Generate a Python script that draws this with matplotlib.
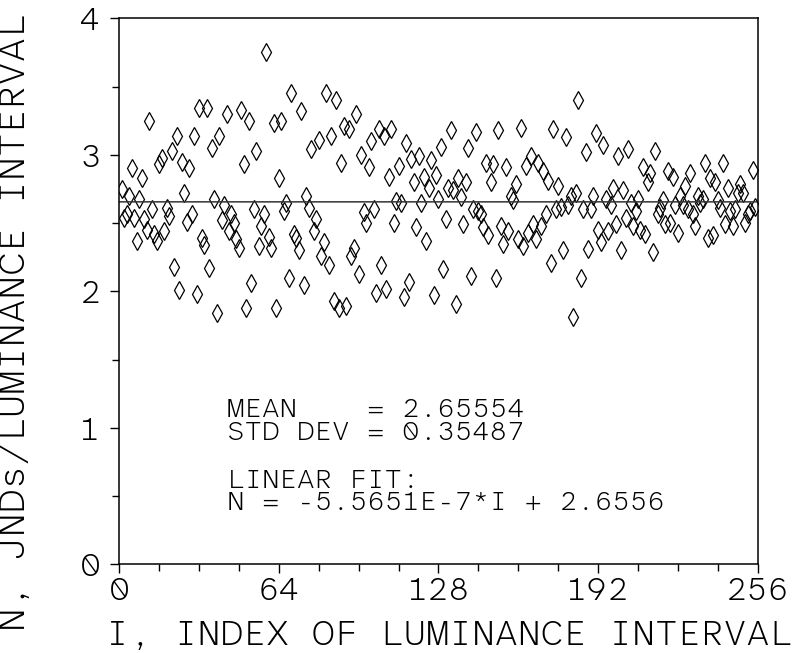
import numpy as np
import matplotlib
matplotlib.use("Agg")
import matplotlib.pyplot as plt


# JNDs per luminance interval, I = 1..255
jnd_001_050 = [2.75, 2.54, 2.57, 2.70, 2.90, 2.54, 2.37, 2.68, 2.83, 2.53,
               2.45, 3.25, 2.60, 2.42, 2.37, 2.93, 2.98, 2.44, 2.61, 2.55,
               3.03, 2.18, 3.14, 2.01, 2.95, 2.72, 2.51, 2.90, 2.57, 3.14,
               1.98, 3.34, 2.39, 2.34, 3.34, 2.17, 3.05, 2.68, 1.84, 3.14,
               2.52, 2.63, 3.30, 2.44, 2.57, 2.50, 2.38, 2.32, 3.33, 2.93]
jnd_051_101 = [1.88, 3.25, 2.06, 2.60, 3.03, 2.33, 2.48, 2.57, 3.75, 2.40,
               2.32, 3.23, 1.88, 2.83, 3.25, 2.59, 2.65, 2.10, 3.45, 2.42,
               2.39, 2.30, 3.32, 2.05, 2.70, 2.61, 3.04, 2.44, 2.53, 3.11,
               2.26, 2.36, 3.45, 2.19, 3.14, 1.93, 3.40, 1.88, 2.94, 3.21,
               1.89, 3.19, 2.26, 2.32, 3.30, 2.13, 3.00, 2.58, 2.50, 2.91,
               3.10]
jnd_102_154 = [2.60, 1.99, 3.19, 2.19, 3.14, 2.02, 2.84, 3.19, 2.50, 2.66,
               2.92, 2.65, 1.96, 3.09, 2.07, 2.97, 2.80, 2.47, 2.99, 2.65,
               2.84, 2.37, 2.76, 2.96, 1.97, 2.85, 2.68, 3.06, 2.16, 2.53,
               2.76, 3.18, 2.74, 1.91, 2.83, 2.69, 2.49, 2.80, 3.05, 2.11,
               2.60, 3.17, 2.59, 2.57, 2.47, 2.94, 2.41, 2.80, 2.93, 2.10,
               3.18, 2.48, 2.35]
jnd_155_205 = [2.91, 2.44, 2.70, 2.67, 2.79, 2.38, 3.20, 2.33, 2.92, 2.43,
               2.99, 2.49, 2.38, 2.94, 2.48, 2.88, 2.57, 2.81, 2.21, 3.19,
               2.60, 2.77, 2.62, 2.30, 3.13, 2.63, 2.70, 1.81, 2.72, 3.40,
               2.10, 2.60, 3.02, 2.31, 2.60, 2.70, 3.16, 2.45, 2.36, 3.07,
               2.68, 2.44, 2.63, 2.76, 2.49, 2.99, 2.30, 2.74, 2.54, 3.04,
               2.65]
jnd_206_255 = [2.48, 2.59, 2.68, 2.45, 2.91, 2.42, 2.80, 2.87, 2.29, 3.03,
               2.57, 2.61, 2.67, 2.49, 2.88, 2.50, 2.84, 2.63, 2.43, 2.70,
               2.63, 2.77, 2.60, 2.87, 2.57, 2.48, 2.70, 2.65, 2.68, 2.94,
               2.39, 2.83, 2.41, 2.80, 2.67, 2.61, 2.94, 2.49, 2.76, 2.59,
               2.48, 2.60, 2.72, 2.79, 2.72, 2.50, 2.57, 2.59, 2.89, 2.62]

mean_txt = "2.65554"
std_txt = "0.35487"
fit_slope = -5.5651e-7
fit_intercept = 2.6556

x_ticks = [0, 64, 128, 192, 256]
y_ticks = [0, 1, 2, 3, 4]

jnd = np.array(jnd_001_050 + jnd_051_101 + jnd_102_154 + jnd_155_205 + jnd_206_255)
idx = np.arange(1, len(jnd) + 1)

# thin mono face with a slashed zero, closest thing to the plotter font
plt.rcParams["font.family"] = ["Atkinson Hyperlegible Mono", "DejaVu Sans Mono"]
plt.rcParams["font.weight"] = 200

fig = plt.figure(figsize = (7.92, 6.53), dpi = 100)
ax = fig.add_axes([0.1506, 0.1358, 0.8061, 0.8361])

ax.plot(idx, jnd, linestyle = "none", marker = "d", markersize = 8.7,
        markerfacecolor = "none", markeredgecolor = "black", markeredgewidth = 0.9)
fit_x = np.array([0, 256])
ax.plot(fit_x, fit_slope * fit_x + fit_intercept, color = "#333333", lw = 1.1)

ax.set_xlim(0, 256)
ax.set_ylim(0, 4)
ax.set_xticks(x_ticks)
ax.set_xticks(np.arange(0, 257, 16), minor = True)
ax.set_yticks(y_ticks)
ax.set_yticks(np.arange(0, 4.01, 0.5), minor = True)
ax.tick_params(which = "both", direction = "out", width = 1, labelsize = 24)
ax.tick_params(axis = "x", which = "major", length = 6.5, pad = 2)
ax.tick_params(axis = "x", which = "minor", length = 5)
ax.tick_params(axis = "y", which = "major", length = 6.5, pad = 7)
ax.tick_params(axis = "y", which = "minor", length = 5)
for s in ax.spines.values():
    s.set_linewidth(1.1)

ax.set_xlabel("I, INDEX OF LUMINANCE INTERVAL", fontsize = 26)
ax.xaxis.set_label_coords(0.516, -0.1295)
ax.xaxis.label.set_va("center")
ax.set_ylabel("N, JNDs/LUMINANCE INTERVAL", fontsize = 27)
ax.yaxis.set_label_coords(-0.163, 0.444)
ax.yaxis.label.set_va("center")

ax.text(43.2, 1.082, "MEAN    = " + mean_txt, fontsize = 20, va = "baseline")
ax.text(43.2, 0.911, "STD DEV = " + std_txt, fontsize = 20, va = "baseline")
ax.text(43.2, 0.559, "LINEAR FIT:", fontsize = 20, va = "baseline")
ax.text(43.2, 0.398, "N = -5.5651E-7*I + 2.6556", fontsize = 20, va = "baseline")

fig.savefig("out.png", dpi = 100)
